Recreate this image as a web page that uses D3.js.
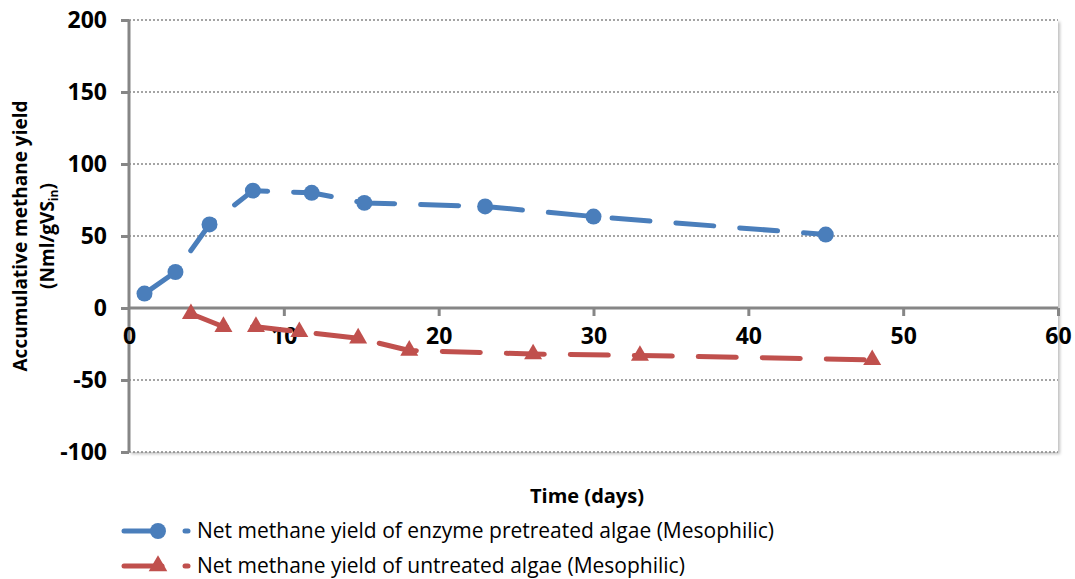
<!DOCTYPE html>
<html>
<head>
<meta charset="utf-8">
<script src="https://cdn.jsdelivr.net/npm/d3@7"></script>
<style>
  body { margin: 0; background: #fff; }
  svg { display: block; }
  text { font-family: "Open Sans", "Liberation Sans", sans-serif; }
</style>
</head>
<body>
<svg id="chart" width="1075" height="579"></svg>
<script>
// enzyme pretreated algae
var enzymeDays = [1, 3, 5.2, 8, 11.8, 15.2, 23, 30, 45];
var enzymeYield = [10, 25, 58, 81.5, 80, 73, 70.5, 63.5, 51];
// untreated algae
var untreatedDays = [4, 6.1, 8.2, 11, 14.8, 18.1, 26.1, 33, 48];
var untreatedYield = [-4, -13, -13, -16.5, -21, -29.5, -32, -33, -36];

var xTicks = [0, 10, 20, 30, 40, 50, 60];
var yTicks = [-100, -50, 0, 50, 100, 150, 200];
var seriesNames = ["Net methane yield of enzyme pretreated algae (Mesophilic)",
                   "Net methane yield of untreated algae (Mesophilic)"];

var margin = { top: 20, right: 17, bottom: 127, left: 129 },
    width = 1075 - margin.left - margin.right,
    height = 579 - margin.top - margin.bottom;

var blue = "#4a7ebb", red = "#c0504d", axisGrey = "#868686";

var svg = d3.select("#chart");

var defs = svg.append("defs");
var f = defs.append("filter").attr("id", "shadow")
    .attr("x", "-5%").attr("y", "-5%").attr("width", "110%").attr("height", "110%");
f.append("feDropShadow").attr("dx", 2).attr("dy", 2).attr("stdDeviation", 1.5)
    .attr("flood-color", "#000").attr("flood-opacity", 0.25);

var g = svg.append("g").attr("transform", "translate(" + margin.left + "," + margin.top + ")");

var x = d3.scaleLinear().domain([0, 60]).range([0, width]);
var y = d3.scaleLinear().domain([-100, 200]).range([height, 0]);

// plot area w/ shadow
g.append("rect")
    .attr("width", width).attr("height", height)
    .attr("fill", "#fff")
    .attr("filter", "url(#shadow)");

// gridlines
g.append("g")
    .selectAll("line")
    .data(yTicks.filter(function(d) { return d !== 0; }))
    .enter().append("line")
    .attr("x1", 0).attr("x2", width)
    .attr("y1", function(d) { return y(d); })
    .attr("y2", function(d) { return y(d); })
    .attr("stroke", axisGrey)
    .attr("stroke-width", 1.3)
    .attr("stroke-dasharray", "2,2");

// y axis
var yAxis = g.append("g")
    .call(d3.axisLeft(y).tickValues(yTicks).tickFormat(String).tickSize(8).tickPadding(14));
yAxis.select(".domain").attr("stroke", axisGrey).attr("stroke-width", 3)
    .attr("d", "M0," + y(200) + "V" + height);
yAxis.selectAll(".tick line").attr("stroke", axisGrey).attr("stroke-width", 3);
yAxis.selectAll(".tick text")
    .attr("fill", "#000")
    .style("font-size", "23px")
    .style("font-weight", "bold");

// x axis at y=0, labels sit just below it
var xAxis = g.append("g")
    .attr("transform", "translate(0," + y(0) + ")")
    .call(d3.axisBottom(x).tickValues(xTicks).tickFormat(String).tickSize(8).tickPadding(12));
xAxis.select(".domain").attr("stroke", axisGrey).attr("stroke-width", 3)
    .attr("d", "M0,0H" + width);
xAxis.selectAll(".tick line").attr("stroke", axisGrey).attr("stroke-width", 3);
xAxis.selectAll(".tick text")
    .attr("fill", "#000")
    .style("font-size", "23px")
    .style("font-weight", "bold");
xAxis.selectAll(".tick").filter(function(d) { return d === 0; }).select("line").remove();

// series - one continuous dashed path, like excel's long dash
var line = d3.line().x(function(d) { return x(d[0]); }).y(function(d) { return y(d[1]); });

function drawSeries(xs, ys, color, shape, size) {
    var pts = xs.map(function(d, i) { return [d, ys[i]]; });
    var sg = g.append("g");
    sg.append("path")
        .datum(pts)
        .attr("d", line)
        .attr("fill", "none")
        .attr("stroke", color)
        .attr("stroke-width", 5)
        .attr("stroke-linecap", "round")
        .attr("stroke-linejoin", "round")
        .attr("stroke-dasharray", "38,26");
    sg.selectAll(".mark")
        .data(pts)
        .enter().append("path")
        .attr("class", "mark")
        .attr("d", d3.symbol().type(shape).size(size))
        .attr("transform", function(d) { return "translate(" + x(d[0]) + "," + y(d[1]) + ")"; })
        .attr("fill", color);
}
drawSeries(enzymeDays, enzymeYield, blue, d3.symbolCircle, 200);
drawSeries(untreatedDays, untreatedYield, red, d3.symbolTriangle, 140);

// axis titles
svg.append("text")
    .attr("x", 587).attr("y", 503)
    .attr("text-anchor", "middle")
    .style("font-size", "20px").style("font-weight", "bold")
    .text("Time (days)");

var yt = svg.append("text")
    .attr("transform", "translate(27,236) rotate(-90)")
    .attr("text-anchor", "middle")
    .style("font-size", "19px").style("font-weight", "bold");
yt.append("tspan").attr("x", 0).attr("dy", 0).text("Accumulative methane yield");
yt.append("tspan").attr("x", 0).attr("dy", 27).text("(Nml/gVS");
yt.append("tspan").attr("dy", 4).style("font-size", "12px").text("in");
yt.append("tspan").attr("dy", -4).text(")");

// legend
var legend = svg.append("g");
var colors = [blue, red];
var shapes = [d3.symbolCircle, d3.symbolTriangle];
var sizes = [200, 150];
seriesNames.forEach(function(name, i) {
    var ly = 531 + i * 35;
    var lg = legend.append("g").attr("transform", "translate(0," + ly + ")");
    lg.append("line").attr("x1", 124).attr("x2", 162).attr("y1", 0).attr("y2", 0)
        .attr("stroke", colors[i]).attr("stroke-width", 5).attr("stroke-linecap", "round");
    lg.append("line").attr("x1", 185).attr("x2", 188).attr("y1", 0).attr("y2", 0)
        .attr("stroke", colors[i]).attr("stroke-width", 5).attr("stroke-linecap", "round");
    lg.append("path")
        .attr("d", d3.symbol().type(shapes[i]).size(sizes[i]))
        .attr("transform", "translate(158,0)")
        .attr("fill", colors[i]);
    lg.append("text")
        .attr("x", 197).attr("y", 0).attr("dy", "0.35em")
        .style("font-size", "21px")
        .text(name);
});
</script>
</body>
</html>
